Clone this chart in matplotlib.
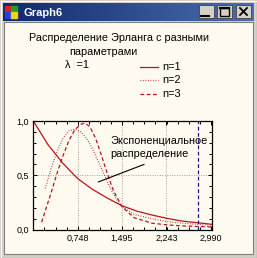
import numpy as np
import matplotlib
matplotlib.use("Agg")
import matplotlib.pyplot as plt
from matplotlib.patches import Rectangle

plt.rcParams["font.family"] = ["Liberation Sans", "DejaVu Sans"]

W, H = 257, 258

# curves
x_n1 = [0.0, 0.25, 0.5, 0.748, 1.0, 1.25, 1.495, 1.75, 2.0, 2.243, 2.5, 2.75, 3.0]
y_n1 = [1.0, 0.78, 0.61, 0.47, 0.37, 0.29, 0.22, 0.17, 0.135, 0.105, 0.08, 0.065, 0.05]

x_n2 = [0.20, 0.30, 0.40, 0.50, 0.60, 0.70, 0.80, 0.90, 1.00, 1.10, 1.20, 1.30,
        1.40, 1.495, 1.70, 2.00, 2.243, 2.50, 2.75, 3.00]
y_n2 = [0.38, 0.56, 0.72, 0.84, 0.91, 0.925, 0.90, 0.84, 0.74, 0.62, 0.50, 0.38,
        0.28, 0.21, 0.14, 0.10, 0.075, 0.06, 0.05, 0.04]

x_n3 = [0.14, 0.20, 0.30, 0.40, 0.50, 0.60, 0.70, 0.80, 0.87, 0.95, 1.05, 1.15,
        1.25, 1.35, 1.495, 1.70, 2.00, 2.243, 2.50, 2.75, 3.00]
y_n3 = [0.07, 0.17, 0.34, 0.52, 0.68, 0.82, 0.92, 0.97, 0.98, 0.95, 0.84, 0.68,
        0.51, 0.36, 0.21, 0.11, 0.06, 0.045, 0.035, 0.03, 0.025]

x_ticks = [0.7475, 1.495, 2.2425, 2.99]
x_labels = ["0,748", "1,495", "2,243", "2,990"]
y_ticks = [0.0, 0.5, 1.0]
y_labels = ["0,0", "0,5", "1,0"]
marker_x = 2.77
legend_labels = ["n=1", "n=2", "n=3"]

red = "#b8141c"
cream = "#fffbf0"
face = "#d4d0c8"
fs = 7.8

fig = plt.figure(figsize=(W / 100, H / 100), dpi=100)
fig.patch.set_facecolor(face)

# window chrome in pixel coords
bg = fig.add_axes([0, 0, 1, 1])
bg.set_xlim(0, W)
bg.set_ylim(H, 0)
bg.axis("off")

bg.add_patch(Rectangle((0, 0), W, H, color=face))
bg.plot([0.5, W - 0.5], [0.5, 0.5], color="white", lw=0.8)
bg.plot([0.5, 0.5], [0.5, H - 0.5], color="white", lw=0.8)
bg.plot([0, W], [H - 0.5, H - 0.5], color="#404040", lw=0.8)
bg.plot([W - 0.5, W - 0.5], [0, H], color="#404040", lw=0.8)

grad = np.linspace(0, 1, 256).reshape(1, -1)
bg.imshow(grad, extent=(3, W - 3, 21, 3), aspect="auto",
          cmap=matplotlib.colors.LinearSegmentedColormap.from_list(
              "tb", ["#102a6c", "#4a6eae"]), zorder=1)

# icon
for i, c in enumerate(["#e02020", "#20a020", "#2040e0", "#f0d020"]):
    bg.add_patch(Rectangle((5 + (i % 2) * 6, 6 + (i // 2) * 6), 6, 6,
                           color=c, zorder=2))
bg.text(23, 12.5, "Graph6", color="white", fontsize=8, fontweight="bold",
        va="center", ha="left", zorder=3)

# buttons
for bx in [199, 217, 236]:
    bg.add_patch(Rectangle((bx, 5), 15, 13, facecolor=face,
                           edgecolor="#404040", lw=0.6, zorder=2))
bg.plot([201, 209], [15.5, 15.5], color="black", lw=1.5, zorder=3)
bg.add_patch(Rectangle((220, 7.5), 9, 8, fill=False, edgecolor="black",
                       lw=1.0, zorder=3))
bg.plot([220, 229], [7.8, 7.8], color="black", lw=1.6, zorder=3)
bg.plot([240, 247], [8, 15], color="black", lw=1.3, zorder=3)
bg.plot([240, 247], [15, 8], color="black", lw=1.3, zorder=3)

# client area
bg.add_patch(Rectangle((4, 22), W - 8, H - 26, facecolor=cream,
                       edgecolor="#808080", lw=0.8, zorder=1))

# titles
bg.text(119, 38, "Распределение Эрланга с разными", fontsize=fs,
        ha="center", va="center", zorder=3)
bg.text(103, 52, "параметрами", fontsize=fs, ha="center", va="center",
        zorder=3)
bg.text(65, 65.5, "λ  =1", fontsize=fs, ha="left", va="center", zorder=3)

# legend
styles = [dict(ls="-"), dict(ls=(0, (0.6, 1.4))), dict(ls=(0, (3, 2)))]
for k, (lab, st) in enumerate(zip(legend_labels, styles)):
    yy = 66.5 + k * 13.8
    bg.plot([140, 158], [yy, yy], color=red, lw=0.9, zorder=3, **st)
    bg.text(162, yy, lab, fontsize=fs, ha="left", va="center", zorder=3)

# plot axes
left, right, top, bottom = 33.3, 212, 121, 229.7
ax = fig.add_axes([left / W, 1 - bottom / H, (right - left) / W,
                   (bottom - top) / H])
ax.set_facecolor(cream)
ax.set_xlim(0, 3.01)
ax.set_ylim(0, 1.0)

ax.plot(x_n1, y_n1, color=red, lw=0.9, ls="-")
ax.plot(x_n2, y_n2, color=red, lw=0.9, ls=(0, (0.6, 1.4)))
ax.plot(x_n3, y_n3, color=red, lw=0.9, ls=(0, (3, 2)))
ax.axvline(marker_x, color="#1a1a80", lw=0.9, ls=(0, (3, 2)))

for xv in x_ticks[:3]:
    ax.axvline(xv, color="#a0a0a0", lw=0.7, ls=(0, (1, 1.5)), zorder=0)
ax.axhline(0.5, color="#a0a0a0", lw=0.7, ls=(0, (1, 1.5)), zorder=0)

ax.annotate("", xy=(1.05, 0.43), xytext=(1.91, 0.61),
            arrowprops=dict(arrowstyle="-", color="black", lw=0.8))
ax.text(1.29, 0.755, "Экспоненциальное\nраспределение", fontsize=fs,
        ha="left", va="center", linespacing=1.3)

ax.set_xticks(x_ticks)
ax.set_xticklabels(x_labels)
ax.set_yticks(y_ticks)
ax.set_yticklabels(y_labels)
ax.set_xticks(np.arange(0.187, 3.0, 0.187), minor=True)
ax.set_yticks(np.arange(0.1, 1.0, 0.1), minor=True)
ax.tick_params(which="both", direction="in", top=True, right=True,
               labelsize=6.5, pad=3, width=0.7)
ax.tick_params(which="major", length=3)
ax.tick_params(which="minor", length=2)
for sp in ax.spines.values():
    sp.set_linewidth(0.9)

fig.savefig("out.png", dpi=100, facecolor=face)
